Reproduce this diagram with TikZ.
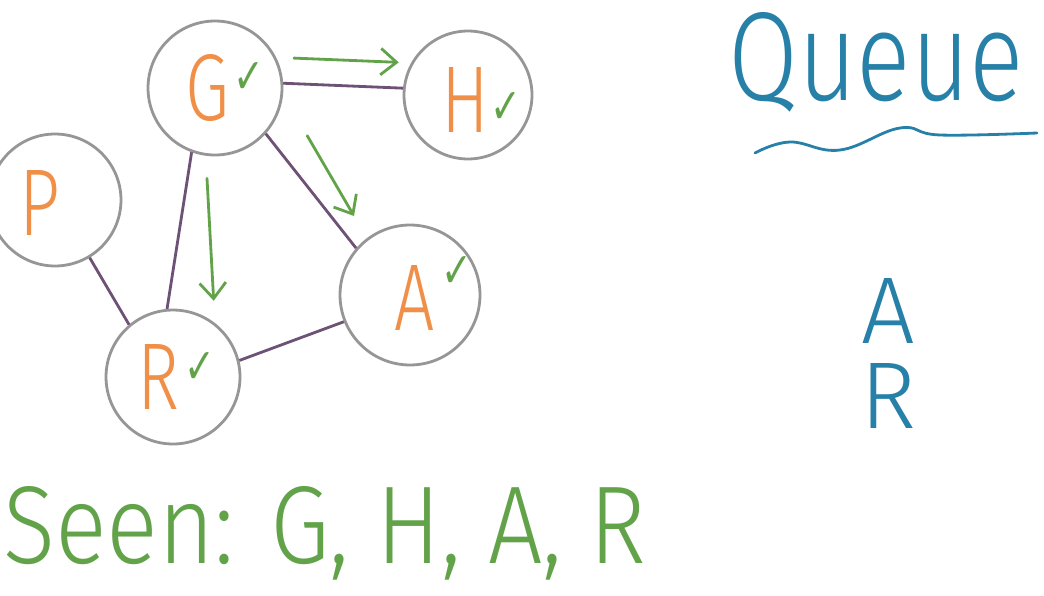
\documentclass[tikz,border=0pt]{standalone}
\usepackage{fontspec}
\usepackage{graphicx}
\newfontfamily\hand{Fira Sans Light}
\newfontfamily\symb{DejaVu Sans}
\newcommand{\narrow}[1]{\scalebox{0.75}[1]{#1}}
\definecolor{ringgray}{RGB}{150,150,150}
\definecolor{edgepurple}{RGB}{110,82,118}
\definecolor{seengreen}{RGB}{98,163,74}
\definecolor{nodeorange}{RGB}{240,143,72}
\definecolor{queueblue}{RGB}{38,128,168}
\usetikzlibrary{arrows.meta,positioning,calc}

\begin{document}
\begin{tikzpicture}[x=0.02cm, y=-0.02cm,
    vertex/.style={circle, draw=ringgray, line width=1.6pt, minimum size=2.68cm, inner sep=0pt},
    letter/.style={font=\hand\fontsize{54}{54}\selectfont, text=nodeorange, inner sep=0pt},
    tick/.style={font=\symb\fontsize{28}{28}\selectfont, text=seengreen, inner sep=0pt},
    edge/.style={draw=edgepurple, line width=1.6pt},
    visit/.style={draw=seengreen, line width=1.6pt, line cap=round,
      -{Straight Barb[length=9pt, width=15pt, line width=1.6pt]}},
    queuetext/.style={font=\hand\fontsize{72}{72}\selectfont, text=queueblue, inner sep=0pt},
    seentext/.style={font=\hand\fontsize{63}{63}\selectfont, text=seengreen, inner sep=0pt},
  ]
  \useasboundingbox (0,0) rectangle (1044,595);

  % graph vertices
  \node[vertex] (G) at (215,88) {};
  \node[vertex, minimum size=2.56cm] (H) at (468,95) {};
  \node[vertex, minimum size=2.64cm] (P) at (55,200) {};
  \node[vertex, minimum size=2.8cm] (A) at (410,295) {};
  \node[vertex] (R) at (173,377) {};

  % vertex letters and visited ticks
  \node[letter] (Gl) at (207,88) {\narrow{G}};
  \node[letter] (Hl) at (465,100) {\narrow{H}};
  \node[letter] (Pl) at (40,203) {\narrow{P}};
  \node[letter] (Al) at (415,298) {\narrow{A}};
  \node[letter] (Rl) at (158,377) {\narrow{R}};
  \node[tick] (Gt) at (249,78) {\narrow{✓}};
  \node[tick] (Ht) at (506,108) {\narrow{✓}};
  \node[tick] (At) at (457,272) {\narrow{✓}};
  \node[tick] (Rt) at (200,368) {\narrow{✓}};

  % undirected edges
  \draw[edge] (G.4) -- (H.174);
  \draw[edge] (G.250) -- (R.95);
  \draw[edge] (G.-42) -- (A.139);
  \draw[edge] (P.-59) -- (R.130);
  \draw[edge] (R.14) -- (A.202);

  % traversal from G
  \draw[visit] ([shift={(17,-1)}]G.25) -- ([shift={(-10,-5)}]H.155);
  \draw[visit] ([shift={(33,13.5)}]G.-30) -- ([shift={(-5.5,-28.5)}]A.135);
  \draw[visit] ([shift={(-8,22)}]G.south) -- ([shift={(6.5,-17)}]R.60);

  % queue column
  \node[queuetext, anchor=base west] (queue) at (728,100) {\scalebox{0.8}[1]{Queue}};
  \draw[queueblue, line width=1.6pt, line cap=round] plot[smooth, tension=0.7]
    coordinates {(755,153) (790,142) (840,150) (900,128) (940,135) (1037,133)};
  \node[queuetext, font=\hand\fontsize{54}{48}\selectfont, align=center, anchor=base]
    (queueitems) at (888,428) {A\\R};

  % seen list
  \node[seentext, anchor=base west] (seen) at (3,563) {\scalebox{0.87}[1]{Seen: G, H, A, R}};
\end{tikzpicture}
\end{document}
